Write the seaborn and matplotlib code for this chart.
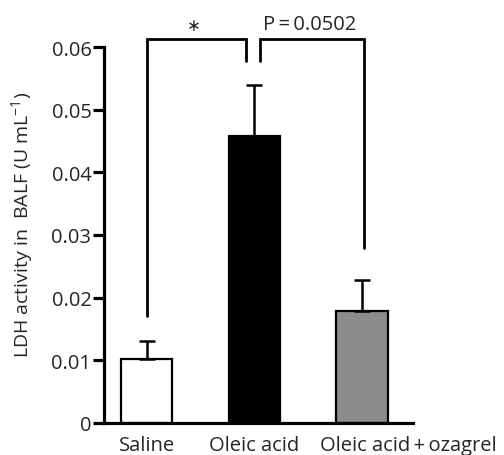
import matplotlib
matplotlib.use("Agg")
import matplotlib.pyplot as plt
import matplotlib.transforms as mtransforms
from matplotlib.ticker import FuncFormatter
import seaborn as sns
import pandas as pd

# ---- data ----
groups = ["Saline", "Oleic acid", "Oleic acid\u2009+\u2009ozagrel"]
means = [0.0102, 0.0458, 0.0178]
sems = [0.0029, 0.0081, 0.0050]
colors = ["#ffffff", "#000000", "#8c8c8c"]
y_ticks = [0, 0.01, 0.02, 0.03, 0.04, 0.05, 0.06]

# significance brackets: (x_left, x_right, y_top, y_left_end, y_right_end, label, label_x, size)
brackets = [
    (0.0, 0.92, 0.0613, 0.0171, 0.0577, "\u2217", 0.44, 12),
    (1.05, 2.02, 0.0613, 0.0577, 0.0279, "P\u2009=\u20090.0502", 1.51, 14.5),
]

sns.set_style("ticks")
plt.rcParams["font.family"] = ["Open Sans", "DejaVu Sans"]
plt.rcParams["mathtext.fontset"] = "custom"
plt.rcParams["mathtext.rm"] = "Open Sans"
plt.rcParams["mathtext.it"] = "Open Sans"

df = pd.DataFrame({"group": groups, "mean": means})

fig = plt.figure(figsize=(5.04, 4.56), dpi=100)
ax = fig.add_axes([104 / 504, 1 - 424 / 456, 309 / 504, 376 / 456])

sns.barplot(data=df, x="group", y="mean", hue="group", palette=colors,
            width=0.48, edgecolor="black", linewidth=1.6, ax=ax,
            legend=False, errorbar=None, saturation=1)

xs = list(range(len(groups)))
ax.errorbar(xs, means, yerr=[[0] * len(sems), sems], fmt="none",
            ecolor="black", elinewidth=1.8, capsize=6, capthick=1.8, zorder=1)

ax.set_ylim(0, 0.06)
ax.set_xlim(-0.395, 2.47)
ax.set_yticks(y_ticks)
ax.yaxis.set_major_formatter(FuncFormatter(lambda v, p: "0" if v == 0 else f"{v:.2f}"))

for s in ["top", "right"]:
    ax.spines[s].set_visible(False)
for s in ["left", "bottom"]:
    ax.spines[s].set_linewidth(2.3)
    ax.spines[s].set_color("black")

ax.tick_params(axis="y", length=8, width=2.3, labelsize=14.5, pad=1, color="black")
ax.tick_params(axis="x", length=0, labelsize=14.5, pad=8.5)
ax.set_xlabel("")
ax.set_ylabel(r"LDH activity in  BALF (U mL$^{-1}$)", fontsize=14)
ax.yaxis.set_label_coords(-0.222, 0.53)

labels = ax.get_xticklabels()
offset = mtransforms.ScaledTranslation(46 / 100, 0, fig.dpi_scale_trans)
labels[2].set_transform(labels[2].get_transform() + offset)

for xl, xr, yt, yl, yr, txt, tx, fs in brackets:
    ax.plot([xl, xl, xr, xr], [yl, yt, yt, yr], color="black", lw=2.0,
            clip_on=False, solid_joinstyle="miter")
    ax.text(tx, yt + 0.0007, txt, ha="center", va="bottom", fontsize=fs,
            clip_on=False)

fig.savefig("out.png", dpi=100)
